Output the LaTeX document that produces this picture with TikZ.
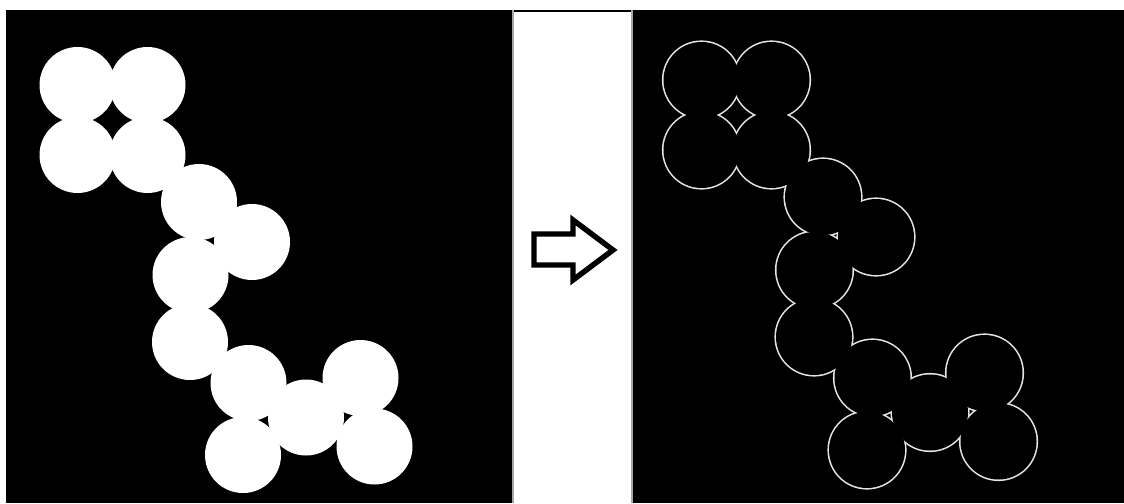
\documentclass[tikz,border=0pt]{standalone}
\usetikzlibrary{positioning}
\tikzset{
  panel/.style={fill=black},
  blob/.style={fill=white},
  rim/.style={draw=black!10, line width=1.8pt},
  hole/.style={fill=black},
  bigarrow/.style={draw=black, line width=3.1pt, fill=white, line join=miter},
  seam/.style={draw=black!35, line width=0.6pt}
}
\newcommand{\blobcentres}{77.5/85, 147.5/85, 77.5/155, 147.5/155, 199/202, 252/242,
  190.5/275, 190/342, 248.5/383, 306/417.5, 243/455, 360.5/378, 374.5/446.5}

\begin{document}
\begin{tikzpicture}[x=0.02cm, y=-0.02cm]
  \fill[white] (0,0) rectangle (1124,503);
  \useasboundingbox (0,0) rectangle (1124,503);
  % left panel: solid blobs
  \fill[panel] (6,10) rectangle (513,503);
  \foreach \cx/\cy in \blobcentres
    \fill[blob] (\cx,\cy) circle[radius=38];
  % gap with the arrow
  \draw[line width=1.1pt] (513,11) -- (632,11);
  \draw[bigarrow] (534,234) -- (573,234) -- (573,220) -- (613,250)
    -- (573,280) -- (573,265) -- (534,265) -- cycle;
  % right panel: only the edges
  \fill[panel] (632,10) rectangle (1124,503);
  \begin{scope}[shift={(624,-5)}]
    \foreach \cx/\cy in \blobcentres
      \draw[rim] (\cx,\cy) circle[radius=38];
    \foreach \cx/\cy in \blobcentres
      \fill[hole] (\cx,\cy) circle[radius=38];
  \end{scope}
  \draw[seam] (513,10) -- (513,503);
  \draw[seam] (632,10) -- (632,503);
\end{tikzpicture}
\end{document}
